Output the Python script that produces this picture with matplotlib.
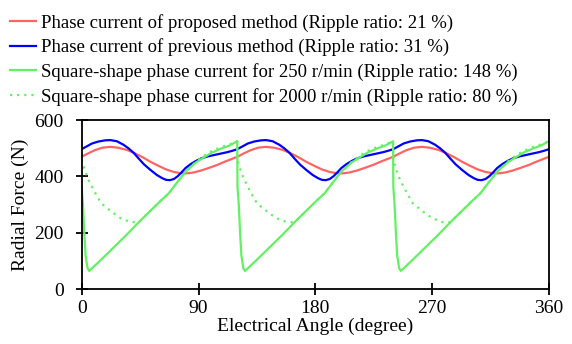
import numpy as np
import matplotlib
matplotlib.use("Agg")
import matplotlib.pyplot as plt

plt.rcParams['font.family'] = ['Liberation Serif', 'DejaVu Serif']

# one electrical period (120 deg), repeated three times over 0-360 deg
period = 120
ang_red = [0, 5, 10, 16, 22, 28, 35, 41, 47, 53, 59, 65, 71, 76, 81, 86, 92, 99, 105, 110, 115, 120]
val_red = [470, 482, 493, 502, 505, 502, 494, 482, 468, 452, 438, 425, 416, 412, 411, 414, 421, 432, 442, 452, 461, 470]

ang_blue = [0, 4, 8, 13, 18, 22, 27, 32, 36, 40, 44, 48, 53, 58, 62, 65, 68, 71, 74, 77, 80, 84, 88, 92, 97,
            102, 107, 112, 116, 120]
val_blue = [497, 507, 517, 524, 528, 529, 525, 513, 500, 484, 463, 443, 423, 405, 394, 388, 387, 391, 401, 415,
            430, 444, 455, 464, 471, 476, 481, 486, 491, 497]

ang_sq250 = [0, 1, 2, 3, 4.5, 5.8, 15, 25, 35, 44, 52, 60, 67, 72, 80, 88, 95, 100, 108, 114, 119.8]
val_sq250 = [364, 300, 200, 120, 75, 65, 105, 150, 195, 238, 274, 310, 340, 370, 417, 450, 470, 484, 500, 510, 525]

ang_sq2000 = [0, 2.5, 5, 10, 15, 23, 30, 38, 44, 52, 60, 67, 72, 80, 88, 95, 100, 108, 114, 119.8]
val_sq2000 = [460, 420, 390, 345, 305, 275, 252, 238, 238, 274, 310, 340, 370, 417, 452, 476, 490, 505, 514, 525]

labels = [
    "Phase current of proposed method (Ripple ratio: 21 %)",
    "Phase current of previous method (Ripple ratio: 31 %)",
    "Square-shape phase current for 250 r/min (Ripple ratio: 148 %)",
    "Square-shape phase current for 2000 r/min (Ripple ratio: 80 %)",
]


def repeat(ang, val, n=3):
    a = np.concatenate([np.array(ang) + k * period for k in range(n)])
    v = np.tile(val, n)
    return a, v


fig = plt.figure(figsize=(5.72, 3.44), dpi=100)
ax = fig.add_axes([0.1428, 0.159, 0.8172, 0.492])

x, y = repeat(ang_red, val_red)
ax.plot(x, y, color='#FF6464', lw=1.6, label=labels[0])
x, y = repeat(ang_blue, val_blue)
ax.plot(x, y, color='#0000FF', lw=1.6, label=labels[1])
x, y = repeat(ang_sq250, val_sq250)
ax.plot(x, y, color='#64F064', lw=1.6, label=labels[2])
x, y = repeat(ang_sq2000, val_sq2000)
ax.plot(x, y, color='#64F064', lw=1.6, ls=(0, (1, 2.2)), label=labels[3])

ax.set_xlim(0, 360)
ax.set_ylim(0, 600)
ax.set_xticks([0, 90, 180, 270, 360])
ax.set_yticks([0, 200, 400, 600])
ax.tick_params(direction='inout', length=8, width=1.3, labelsize=14)
ax.tick_params(axis='x', pad=4)
ax.tick_params(axis='y', pad=9)
for s in ax.spines.values():
    s.set_linewidth(1.3)
ax.set_xlabel("Electrical Angle (degree)", fontsize=14, labelpad=0)
ax.set_ylabel("Radial Force (N)", fontsize=14, labelpad=4)

fig.legend(loc='upper left', bbox_to_anchor=(0.002, 0.985), frameon=False,
           fontsize=13.5, handlelength=1.4, handletextpad=0.3,
           labelspacing=0.36, borderaxespad=0, borderpad=0.45)

fig.savefig("out.png", dpi=100)
